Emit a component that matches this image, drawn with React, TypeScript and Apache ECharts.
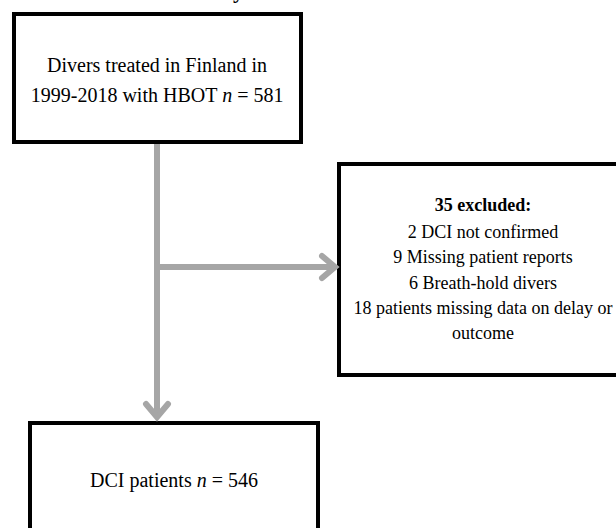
import React, { useEffect, useRef } from "react";
import * as echarts from "echarts";

const titleText = "Flowchart of the study";
const totalLines = ["Divers treated in Finland in", "1999-2018 with HBOT {i|n} = 581"];
const excludedTitle = "35 excluded:";
const excludedLines = [
  "2 DCI not confirmed",
  "9 Missing patient reports",
  "6 Breath-hold divers",
  "18 patients missing data on delay or",
  "outcome",
];
const finalLines = ["DCI patients {i|n} = 546"];

const FONT = '"Liberation Serif", "Times New Roman", serif';
const GRAY = "#a6a6a6";

export default function App() {
  const ref = useRef<HTMLDivElement>(null);
  useEffect(() => {
    if (!ref.current) return;
    const chart = echarts.init(ref.current, null, { renderer: "svg" });
    const rich20 = { i: { fontStyle: "italic", fontFamily: FONT, fontSize: 20, fill: "#000" } };
    const rich18 = { i: { fontStyle: "italic", fontFamily: FONT, fontSize: 18, fill: "#000" } };
    const elements: any[] = [];
    // title fragment (cut off at top in the reference)
    elements.push({
      type: "text",
      x: 244,
      y: 1,
      style: { text: titleText, font: `bold 22px ${FONT}`, fill: "#000", align: "right", verticalAlign: "bottom" },
    });
    const box = (x: number, y: number, w: number, h: number) => ({
      type: "rect",
      shape: { x, y, width: w, height: h },
      style: { fill: "#fff", stroke: "#000", lineWidth: 4 },
    });
    elements.push(box(14, 14, 287, 128));
    elements.push(box(339, 164, 292, 211));
    elements.push(box(30, 423, 288, 130));
    elements.push({ type: "line", shape: { x1: 157, y1: 144, x2: 157, y2: 418 }, style: { stroke: GRAY, lineWidth: 6 } });
    elements.push({ type: "line", shape: { x1: 157, y1: 267, x2: 334, y2: 267 }, style: { stroke: GRAY, lineWidth: 6 } });
    elements.push({
      type: "polyline",
      shape: { points: [[146, 404], [157, 417], [168, 404]] },
      style: { stroke: GRAY, lineWidth: 6, fill: null, lineCap: "round", lineJoin: "miter" },
    });
    elements.push({
      type: "polyline",
      shape: { points: [[322, 256], [335, 267], [322, 278]] },
      style: { stroke: GRAY, lineWidth: 6, fill: null, lineCap: "round", lineJoin: "miter" },
    });
    totalLines.forEach((t, i) => {
      elements.push({
        type: "text",
        x: 157,
        y: 65 + i * 30,
        style: { text: t, font: `20px ${FONT}`, fill: "#000", align: "center", verticalAlign: "middle", rich: rich20 },
      });
    });
    elements.push({
      type: "text",
      x: 483,
      y: 205,
      style: { text: excludedTitle, font: `bold 18px ${FONT}`, fill: "#000", align: "center", verticalAlign: "middle" },
    });
    excludedLines.forEach((t, i) => {
      elements.push({
        type: "text",
        x: 483,
        y: 232 + i * 25.3,
        style: { text: t, font: `18px ${FONT}`, fill: "#000", align: "center", verticalAlign: "middle", rich: rich18 },
      });
    });
    finalLines.forEach((t, i) => {
      elements.push({
        type: "text",
        x: 174,
        y: 480 + i * 30,
        style: { text: t, font: `20px ${FONT}`, fill: "#000", align: "center", verticalAlign: "middle", rich: rich20 },
      });
    });
    chart.setOption({
      animation: false,
      backgroundColor: "#fff",
      graphic: { elements },
    });
    return () => chart.dispose();
  }, []);
  return <div ref={ref} style={{ position: "fixed", left: 0, top: 0, width: 616, height: 528, background: "#fff" }} />;
}
